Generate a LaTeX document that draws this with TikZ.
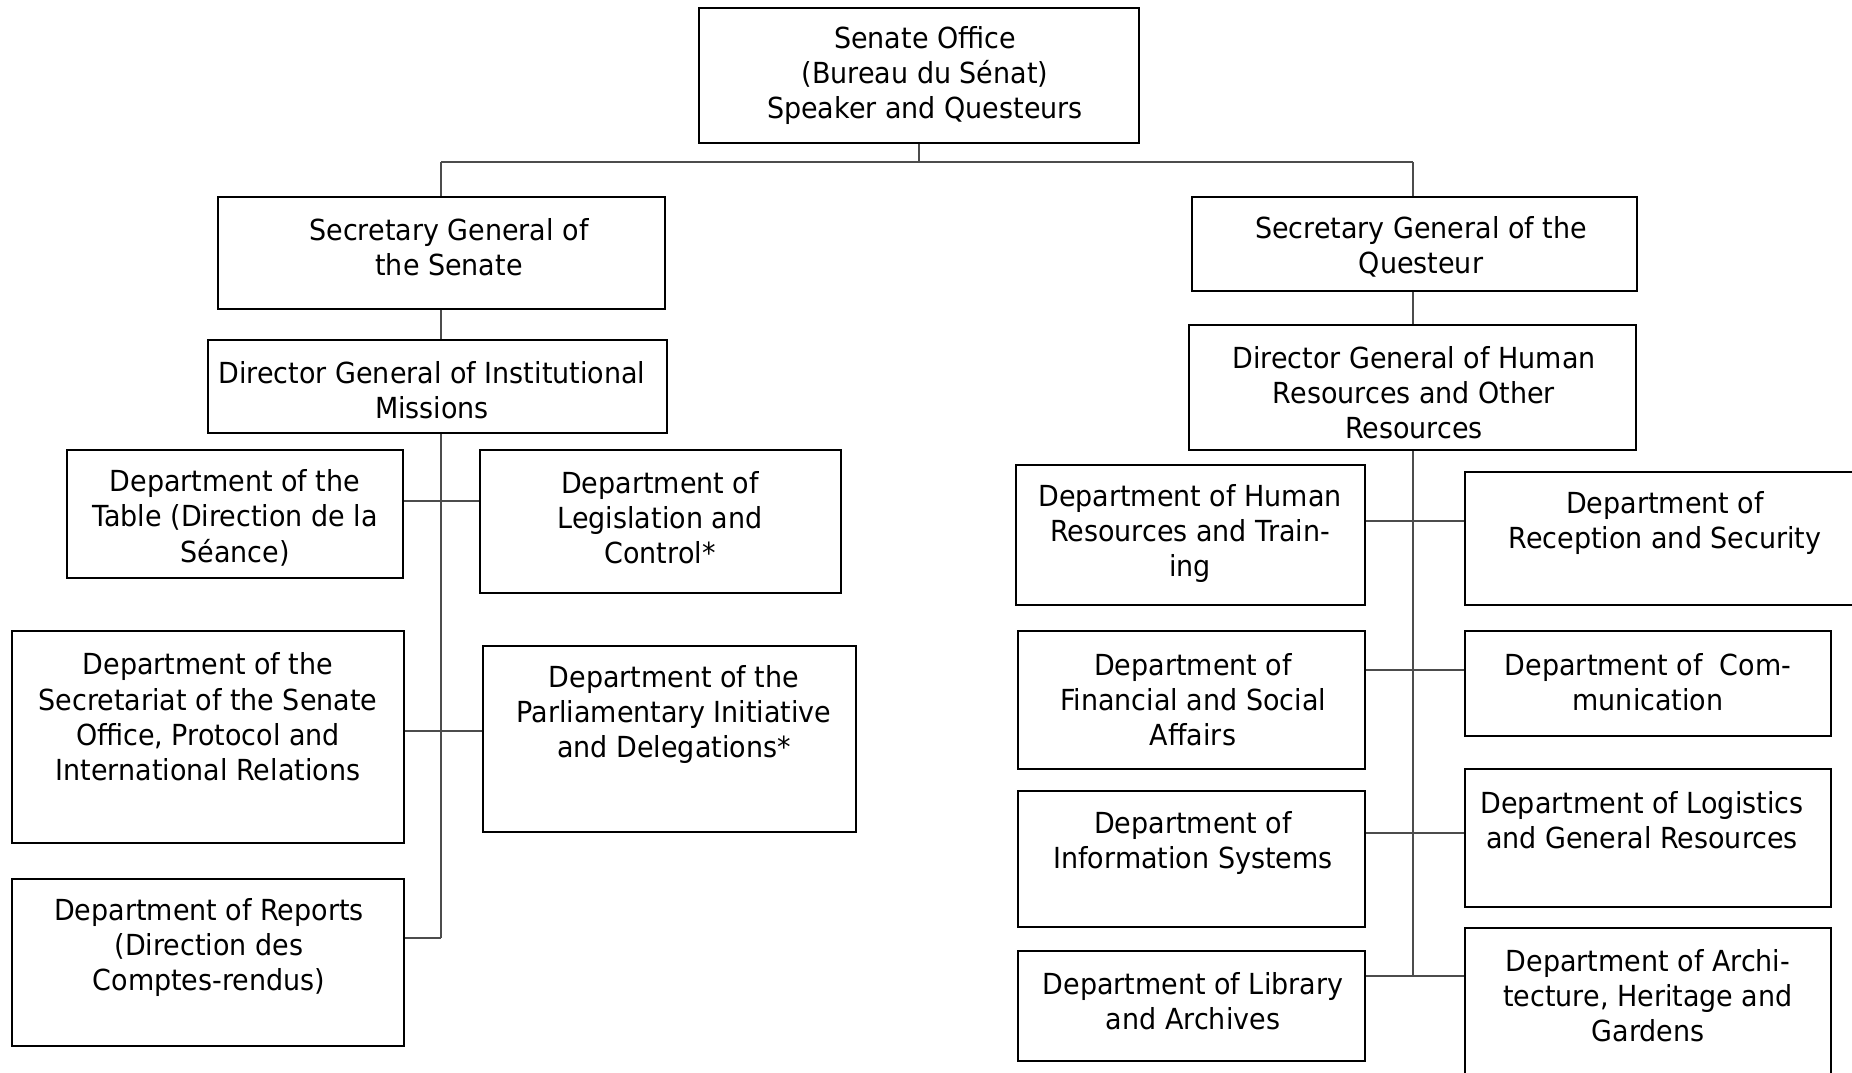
\documentclass[tikz,border=0pt]{standalone}
\usepackage{fontspec}
\setmainfont{DejaVu Sans}[FakeStretch=0.93]
\usetikzlibrary{fit}

\tikzset{
  orgbox/.style={draw, line width=1.1pt, inner sep=0pt},
  orgtext/.style={align=center, inner sep=0pt, yshift=-1.6pt, font=\fontsize{16.5}{20}\selectfont},
  link/.style={draw=black!70, line width=1pt}
}

\begin{document}
\begin{tikzpicture}[x=0.02cm,y=-0.02cm]
  \useasboundingbox (0,0) rectangle (1852,1072);
  \clip (0,0) rectangle (1852,1072);

  % top level
  \node[orgbox, fit={(699,8) (1139,143)}] (office) {};
  \node[orgtext] (officeT) at (925,73) {Senate Office\\(Bureau du Sénat)\\Speaker and Questeurs};

  \path[coordinate] (441,162) coordinate (barL)
                    (1413,162) coordinate (barR);

  % secretaries general
  \node[orgbox, fit={(218,197) (665,309)}] (sgsen) {};
  \node[orgtext] (sgsenT) at (449,244) {Secretary General of\\the Senate};
  \node[orgbox, fit={(1192,197) (1637,291)}] (sgq) {};
  \node[orgtext] (sgqT) at (1421,244) {Secretary General of the\\Questeur};

  % directors general
  \node[orgbox, fit={(208,340) (667,433)}] (dgim) {};
  \node[orgtext] (dgimT) at (432,387) {Director General of Institutional\\Missions};
  \node[orgbox, fit={(1189,325) (1636,450)}] (dghr) {};
  \node[orgtext] (dghrT) at (1414,390) {Director General of Human\\Resources and Other\\Resources};

  % left departments
  \node[orgbox, fit={(67,450) (403,578)}] (table) {};
  \node[orgtext] (tableT) at (235,515) {Department of the\\Table (Direction de la\\Séance)};
  \node[orgbox, fit={(480,450) (841,593)}] (legis) {};
  \node[orgtext] (legisT) at (660,515) {Department of\\Legislation and\\Control*};
  \node[orgbox, fit={(12,631) (404,843)}] (secr) {};
  \node[orgtext] (secrT) at (208,714) {Department of the\\Secretariat of the Senate\\Office, Protocol and\\International Relations};
  \node[orgbox, fit={(483,646) (856,832)}] (parl) {};
  \node[orgtext] (parlT) at (674,712) {Department of the\\Parliamentary Initiative\\and Delegations*};
  \node[orgbox, fit={(12,879) (404,1046)}] (reports) {};
  \node[orgtext] (reportsT) at (209,945) {Department of Reports\\(Direction des\\Comptes-rendus)};

  % right departments
  \node[orgbox, fit={(1016,465) (1365,605)}] (hrt) {};
  \node[orgtext] (hrtT) at (1190,531) {Department of Human\\Resources and Train-\\ing};
  \node[orgbox, fit={(1465,472) (1875,605)}] (recep) {};
  \node[orgtext] (recepT) at (1665,520) {Department of\\Reception and Security};
  \node[orgbox, fit={(1018,631) (1365,769)}] (fin) {};
  \node[orgtext] (finT) at (1193,697) {Department of\\Financial and Social\\Affairs};
  \node[orgbox, fit={(1465,631) (1831,736)}] (comm) {};
  \node[orgtext] (commT) at (1648,679) {Department of~~Com-\\munication};
  \node[orgbox, fit={(1018,791) (1365,927)}] (info) {};
  \node[orgtext] (infoT) at (1193,840) {Department of\\Information Systems};
  \node[orgbox, fit={(1465,769) (1831,907)}] (logi) {};
  \node[orgtext] (logiT) at (1642,817) {Department of Logistics\\and General Resources};
  \node[orgbox, fit={(1018,951) (1365,1061)}] (lib) {};
  \node[orgtext] (libT) at (1193,998) {Department of Library\\and Archives};
  \node[orgbox, fit={(1465,928) (1831,1095)}] (arch) {};
  \node[orgtext] (archT) at (1648,993) {Department of Archi-\\tecture, Heritage and\\Gardens};

  % connectors
  \draw[link] (office.south) -- (office.south |- barL);
  \draw[link] (barL) -- (barR);
  \draw[link] (barL) -- (sgsen.north -| barL);
  \draw[link] (barR) -- (sgq.north -| barR);
  \draw[link] (sgsen.south -| barL) -- (dgim.north -| barL);
  \draw[link] (sgq.south -| barR) -- (dghr.north -| barR);

  \path[coordinate] (441,938) coordinate (spineL)
                    (1413,976) coordinate (spineR);
  \draw[link] (dgim.south -| barL) -- (spineL);
  \draw[link] (table.east |- 0,501) -- (legis.west |- 0,501);
  \draw[link] (secr.east |- 0,731) -- (parl.west |- 0,731);
  \draw[link] (reports.east |- spineL) -- (spineL);

  \draw[link] (dghr.south -| barR) -- (spineR);
  \draw[link] (hrt.east |- 0,521) -- (recep.west |- 0,521);
  \draw[link] (fin.east |- 0,670) -- (comm.west |- 0,670);
  \draw[link] (info.east |- 0,833) -- (logi.west |- 0,833);
  \draw[link] (lib.east |- spineR) -- (arch.west |- spineR);
\end{tikzpicture}
\end{document}
